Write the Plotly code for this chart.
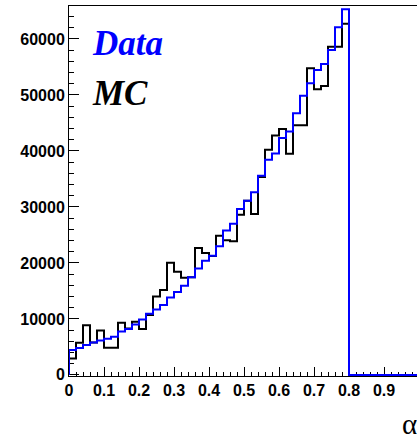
import numpy as np
import plotly.graph_objects as go

# Histogram binning: 50 bins of width 0.02 on [0, 1]
bin_width = 0.02
n_bins = 50

# Bin contents (first 40 bins, 0.0-0.8); remaining bins are empty
mc_counts = [2940, 5740, 8880, 5800, 7940, 4840, 4840, 9300, 8300, 9500,
             8200, 10700, 14000, 15150, 20050, 18400, 17330, 17450, 22680, 21790,
             21250, 24870, 24030, 23860, 28620, 31100, 28740, 35330, 40210, 42750,
             43900, 39490, 44600, 44600, 54770, 51030, 51620, 58600, 58600, 62700]
data_counts = [4430, 4780, 5350, 5800, 6150, 6450, 6800, 7750, 8200, 9000,
               9900, 10900, 11700, 12500, 13800, 14800, 15900, 17450, 19000, 20400,
               21300, 22970, 25770, 27010, 29640, 31100, 32600, 35570, 38420, 39550,
               42290, 43470, 46750, 49840, 52090, 54470, 55540, 58040, 62080, 65290]

x_ticks = [0, 0.1, 0.2, 0.3, 0.4, 0.5, 0.6, 0.7, 0.8, 0.9, 1.0]
x_tick_text = ["0", "0.1", "0.2", "0.3", "0.4", "0.5", "0.6", "0.7", "0.8", "0.9", "1"]
y_ticks = [0, 10000, 20000, 30000, 40000, 50000, 60000]
y_tick_text = [str(v) for v in y_ticks]

edges = np.arange(n_bins + 1) * bin_width


def step_outline(counts):
    vals = np.zeros(n_bins)
    vals[:len(counts)] = counts
    xs = np.concatenate([[edges[0]], edges[:-1], [edges[-1]]])
    ys = np.concatenate([[0.0], vals, [vals[-1]]])
    return xs, ys


W, H = 417, 443
L, R, T, B = 69, 0, 6, 67
pw, ph = W - L - R, H - T - B
x_max = pw / 350.0
y_min, y_max = -200, 65890

fig = go.Figure()
for counts, color in [(mc_counts, "black"), (data_counts, "#0000ff")]:
    xs, ys = step_outline(counts)
    fig.add_trace(go.Scatter(x=xs, y=ys, mode="lines",
                             line=dict(color=color, width=2, shape="hv"),
                             showlegend=False, hoverinfo="skip"))


def px_x(p):
    return (p - L) / pw


def px_y(p):
    return (H - B - p) / ph


tick_font = dict(family="Liberation Sans", size=16, color="black", weight="bold")

fig.update_layout(
    width=W, height=H,
    margin=dict(l=L, r=R, t=T, b=B, pad=0),
    paper_bgcolor="white", plot_bgcolor="white",
    xaxis=dict(range=[0, x_max], showgrid=False, zeroline=False,
               showline=True, linecolor="black", linewidth=1, mirror=True,
               tickmode="array", tickvals=x_ticks, ticktext=x_tick_text,
               ticks="inside", ticklen=9, tickcolor="black", tickwidth=1,
               minor=dict(ticks="inside", ticklen=4, dtick=0.02, tick0=0,
                          tickcolor="black", showgrid=False),
               tickfont=tick_font, automargin=False, layer="below traces"),
    yaxis=dict(range=[y_min, y_max], showgrid=False, zeroline=False,
               showline=True, linecolor="black", linewidth=1,
               tickmode="array", tickvals=y_ticks, ticktext=y_tick_text,
               ticks="inside", ticklen=10, tickcolor="black", tickwidth=1,
               minor=dict(ticks="inside", ticklen=5, dtick=2000, tick0=0,
                          tickcolor="black", showgrid=False),
               tickfont=tick_font, automargin=False, layer="below traces"),
    annotations=[
        dict(text="<b><i>Data</i></b>", xref="paper", yref="paper",
             x=px_x(90), y=px_y(44), xanchor="left", yanchor="middle",
             showarrow=False,
             font=dict(family="Liberation Serif", size=35, color="#0000ff")),
        dict(text="<b><i>MC</i></b>", xref="paper", yref="paper",
             x=px_x(90), y=px_y(93), xanchor="left", yanchor="middle",
             showarrow=False,
             font=dict(family="Liberation Serif", size=35, color="black")),
        dict(text="α", xref="paper", yref="paper",
             x=px_x(400), y=px_y(424), xanchor="left", yanchor="middle",
             showarrow=False,
             font=dict(family="Liberation Serif", size=29, color="black")),
    ],
)

fig.write_html("out.html")
